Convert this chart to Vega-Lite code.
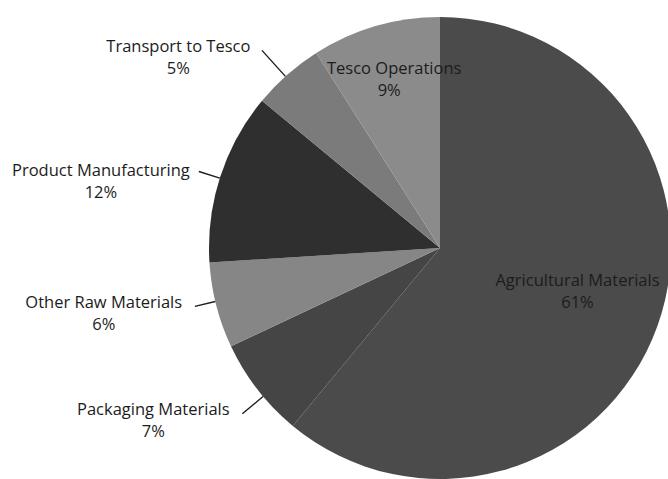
{
  "$schema": "https://vega.github.io/schema/vega-lite/v6.json",
  "autosize": {"type": "none"},
  "padding": {"left": 212, "top": 17, "right": 0, "bottom": 0},
  "width": 456,
  "height": 462,
  "background": "white",
  "config": {"view": {"stroke": null}, "text": {"font": "Open Sans", "fontSize": 16.5, "fill": "#1c1c1c"}},
  "data": {"values": [
    {"category": "Agricultural Materials", "value": 0.61, "order": 1},
    {"category": "Packaging Materials", "value": 0.07, "order": 2},
    {"category": "Other Raw Materials", "value": 0.06, "order": 3},
    {"category": "Product Manufacturing", "value": 0.12, "order": 4},
    {"category": "Transport to Tesco", "value": 0.05, "order": 5},
    {"category": "Tesco Operations", "value": 0.09, "order": 6}
  ]},
  "encoding": {
    "theta": {"field": "value", "type": "quantitative", "stack": true},
    "order": {"field": "order", "type": "quantitative"}
  },
  "layer": [
    {
      "mark": {"type": "arc", "radius": 231},
      "encoding": {
        "color": {"field": "category", "type": "nominal", "legend": null,
          "scale": {"domain": ["Agricultural Materials", "Packaging Materials", "Other Raw Materials", "Product Manufacturing", "Transport to Tesco", "Tesco Operations"],
                    "range": ["#4b4b4b", "#454545", "#868686", "#2f2f2f", "#7b7b7b", "#8b8b8b"]}}
      }
    },
    {
      "transform": [{"filter": "datum.category === 'Transport to Tesco'"}],
      "mark": {"type": "arc", "filled": false, "stroke": "#1e1e1e", "strokeWidth": 1.4, "radius": 266, "radius2": 231},
      "encoding": {"theta": {"datum": 0.8833, "type": "quantitative"}, "theta2": {"datum": 0.8833}}
    },
    {
      "transform": [{"filter": "datum.category === 'Product Manufacturing'"}],
      "mark": {"type": "arc", "filled": false, "stroke": "#1e1e1e", "strokeWidth": 1.4, "radius": 253, "radius2": 231},
      "encoding": {"theta": {"datum": 0.7989, "type": "quantitative"}, "theta2": {"datum": 0.7989}}
    },
    {
      "transform": [{"filter": "datum.category === 'Other Raw Materials'"}],
      "mark": {"type": "arc", "filled": false, "stroke": "#1e1e1e", "strokeWidth": 1.4, "radius": 252, "radius2": 231},
      "encoding": {"theta": {"datum": 0.7128, "type": "quantitative"}, "theta2": {"datum": 0.7128}}
    },
    {
      "transform": [{"filter": "datum.category === 'Packaging Materials'"}],
      "mark": {"type": "arc", "filled": false, "stroke": "#1e1e1e", "strokeWidth": 1.4, "radius": 258, "radius2": 231},
      "encoding": {"theta": {"datum": 0.6389, "type": "quantitative"}, "theta2": {"datum": 0.6389}}
    },
    {
      "mark": {"type": "text", "radius": 144, "dx": 2, "dy": -16},
      "encoding": {"text": {"condition": {"test": "datum.category === 'Agricultural Materials'", "field": "category", "type": "nominal"}, "value": ""}}
    },
    {
      "mark": {"type": "text", "radius": 144, "dx": 2, "dy": 6},
      "encoding": {"text": {"condition": {"test": "datum.category === 'Agricultural Materials'", "field": "value", "type": "quantitative", "format": ".0%"}, "value": ""}}
    },
    {
      "mark": {"type": "text", "radius": 175, "dx": 3, "dy": -11},
      "encoding": {"text": {"condition": {"test": "datum.category === 'Tesco Operations'", "field": "category", "type": "nominal"}, "value": ""}}
    },
    {
      "mark": {"type": "text", "radius": 175, "dx": -2, "dy": 11},
      "encoding": {"text": {"condition": {"test": "datum.category === 'Tesco Operations'", "field": "value", "type": "quantitative", "format": ".0%"}, "value": ""}}
    },
    {
      "mark": {"type": "text", "radius": 323, "dx": -48, "dy": 41},
      "encoding": {"text": {"condition": {"test": "datum.category === 'Transport to Tesco'", "field": "category", "type": "nominal"}, "value": ""}}
    },
    {
      "mark": {"type": "text", "radius": 323, "dx": -48, "dy": 63},
      "encoding": {"text": {"condition": {"test": "datum.category === 'Transport to Tesco'", "field": "value", "type": "quantitative", "format": ".0%"}, "value": ""}}
    },
    {
      "mark": {"type": "text", "radius": 345, "dx": -11, "dy": 30},
      "encoding": {"text": {"condition": {"test": "datum.category === 'Product Manufacturing'", "field": "category", "type": "nominal"}, "value": ""}}
    },
    {
      "mark": {"type": "text", "radius": 345, "dx": -11, "dy": 52},
      "encoding": {"text": {"condition": {"test": "datum.category === 'Product Manufacturing'", "field": "value", "type": "quantitative", "format": ".0%"}, "value": ""}}
    },
    {
      "mark": {"type": "text", "radius": 342, "dx": -5, "dy": -30},
      "encoding": {"text": {"condition": {"test": "datum.category === 'Other Raw Materials'", "field": "category", "type": "nominal"}, "value": ""}}
    },
    {
      "mark": {"type": "text", "radius": 342, "dx": -5, "dy": -8},
      "encoding": {"text": {"condition": {"test": "datum.category === 'Other Raw Materials'", "field": "value", "type": "quantitative", "format": ".0%"}, "value": ""}}
    },
    {
      "mark": {"type": "text", "radius": 335, "dx": -22, "dy": -43},
      "encoding": {"text": {"condition": {"test": "datum.category === 'Packaging Materials'", "field": "category", "type": "nominal"}, "value": ""}}
    },
    {
      "mark": {"type": "text", "radius": 335, "dx": -22, "dy": -21},
      "encoding": {"text": {"condition": {"test": "datum.category === 'Packaging Materials'", "field": "value", "type": "quantitative", "format": ".0%"}, "value": ""}}
    }
  ]
}
